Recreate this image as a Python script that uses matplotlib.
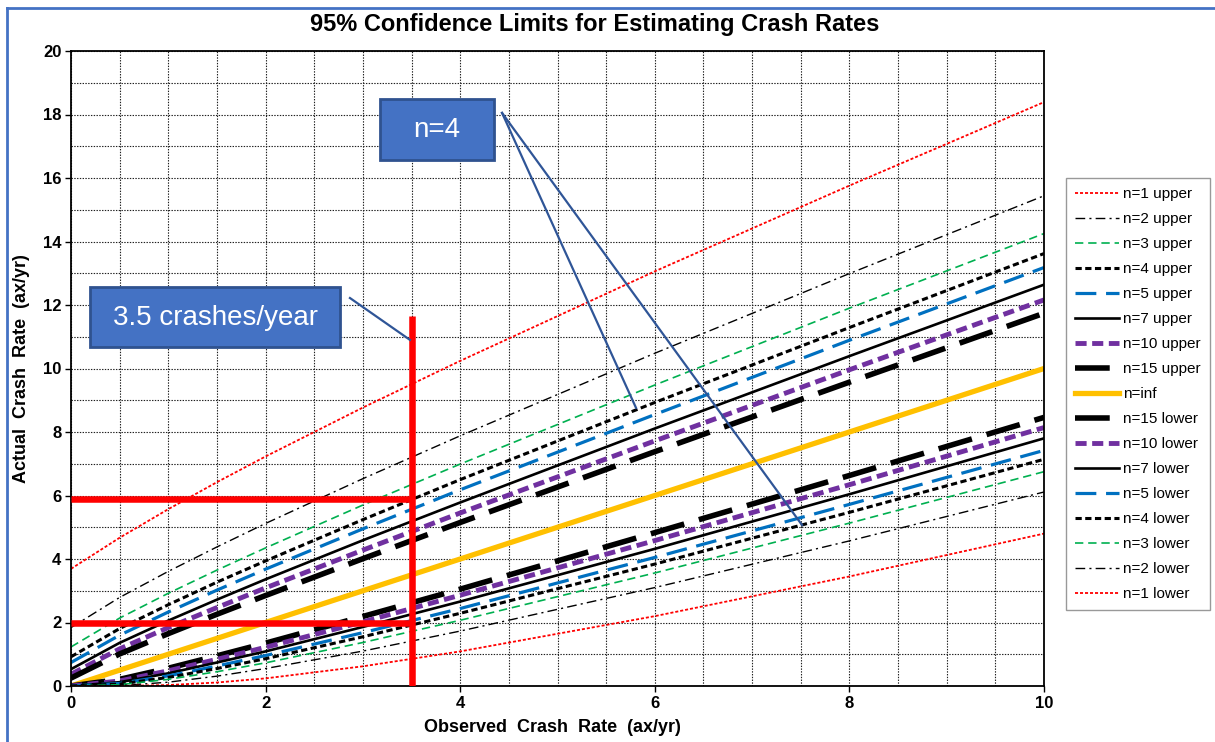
import matplotlib
matplotlib.use("Agg")
import matplotlib.pyplot as plt
from matplotlib.lines import Line2D
from matplotlib.patches import Rectangle
from matplotlib.ticker import MultipleLocator

plt.rcParams["font.family"] = ["Liberation Sans", "DejaVu Sans"]
plt.rcParams["lines.scale_dashes"] = False

# observed crash rate (ax/yr) at which the limits were read
rate = [0, 0.5, 1, 1.5, 2, 3, 4, 6, 8, 10]

# upper 95% limits, n = years of data
upper_n1 = [3.69, 4.67, 5.57, 6.42, 7.23, 8.77, 10.24, 13.06, 15.76, 18.39]
upper_n2 = [1.84, 2.79, 3.61, 4.38, 5.12, 6.53, 7.88, 10.48, 12.99, 15.44]
upper_n3 = [1.23, 2.14, 2.92, 3.65, 4.35, 5.70, 6.99, 9.48, 11.90, 14.25]
upper_n4 = [0.92, 1.81, 2.56, 3.27, 3.94, 5.24, 6.50, 8.93, 11.29, 13.62]
upper_n5 = [0.74, 1.60, 2.33, 3.02, 3.68, 4.95, 6.18, 8.55, 10.89, 13.18]
upper_n7 = [0.53, 1.36, 2.06, 2.72, 3.36, 4.59, 5.78, 8.11, 10.39, 12.64]
upper_n10 = [0.37, 1.17, 1.84, 2.47, 3.09, 4.28, 5.45, 7.72, 9.96, 12.16]
upper_n15 = [0.25, 1.01, 1.65, 2.26, 2.85, 4.01, 5.15, 7.38, 9.57, 11.74]
rate_inf = [0, 0.5, 1, 1.5, 2, 3, 4, 6, 8, 10]

# lower 95% limits
lower_n15 = [0, 0.21, 0.56, 0.95, 1.35, 2.19, 3.05, 4.83, 6.63, 8.46]
lower_n10 = [0, 0.16, 0.48, 0.84, 1.22, 2.02, 2.86, 4.58, 6.34, 8.14]
lower_n7 = [0, 0.12, 0.40, 0.74, 1.09, 1.86, 2.66, 4.32, 6.04, 7.80]
lower_n5 = [0, 0.08, 0.32, 0.63, 0.96, 1.68, 2.44, 4.05, 5.72, 7.42]
lower_n4 = [0, 0.06, 0.27, 0.55, 0.86, 1.55, 2.29, 3.84, 5.47, 7.14]
lower_n3 = [0, 0.04, 0.21, 0.45, 0.73, 1.37, 2.07, 3.56, 5.13, 6.75]
lower_n2 = [0, 0.01, 0.12, 0.31, 0.55, 1.10, 1.73, 3.10, 4.57, 6.11]
lower_n1 = [0, 0.00, 0.03, 0.11, 0.24, 0.62, 1.09, 2.20, 3.45, 4.80]

# worked example: 3.5 crashes/year over 4 years
example_rate = 3.5
example_upper = 5.9
example_lower = 2.0
example_top = 11.65

# (label, values, colour, width, linestyle)
series = [
    ("n=1 upper", upper_n1, "#FF0000", 1.3, (0, (2.2, 1.4))),
    ("n=2 upper", upper_n2, "black", 1.0, (0, (7, 3, 1.5, 3))),
    ("n=3 upper", upper_n3, "#00B050", 1.2, (0, (6, 3.5))),
    ("n=4 upper", upper_n4, "black", 2.2, (0, (4.5, 2.5))),
    ("n=5 upper", upper_n5, "#0070C0", 2.3, (0, (15, 7))),
    ("n=7 upper", upper_n7, "black", 1.9, "-"),
    ("n=10 upper", upper_n10, "#7030A0", 3.5, (0, (8, 4))),
    ("n=15 upper", upper_n15, "black", 4.0, (0, (25, 11))),
    ("n=inf", rate_inf, "#FFC000", 3.8, "-"),
    ("n=15 lower", lower_n15, "black", 4.0, (0, (25, 11))),
    ("n=10 lower", lower_n10, "#7030A0", 3.5, (0, (8, 4))),
    ("n=7 lower", lower_n7, "black", 1.9, "-"),
    ("n=5 lower", lower_n5, "#0070C0", 2.3, (0, (15, 7))),
    ("n=4 lower", lower_n4, "black", 2.2, (0, (4.5, 2.5))),
    ("n=3 lower", lower_n3, "#00B050", 1.2, (0, (6, 3.5))),
    ("n=2 lower", lower_n2, "black", 1.0, (0, (7, 3, 1.5, 3))),
    ("n=1 lower", lower_n1, "#FF0000", 1.3, (0, (2.2, 1.4))),
]

fig = plt.figure(figsize=(12.15, 7.42), dpi=100)
ax = fig.add_axes([71 / 1215, 1 - 686 / 742, (1044 - 71) / 1215, (686 - 51) / 742])

for label, values, color, lw, ls in series:
    ax.plot(rate, values, color=color, lw=lw, linestyle=ls, label=label)

ax.set_xlim(0, 10)
ax.set_ylim(0, 20)
ax.xaxis.set_major_locator(MultipleLocator(2))
ax.xaxis.set_minor_locator(MultipleLocator(0.5))
ax.yaxis.set_major_locator(MultipleLocator(2))
ax.yaxis.set_minor_locator(MultipleLocator(1))
ax.grid(which="both", color="#202020", lw=0.8, linestyle=(0, (1, 1)))
ax.set_axisbelow(True)
ax.tick_params(which="major", direction="out", length=4, width=1, labelsize=12, pad=3)
ax.tick_params(which="minor", length=0)
for lab in ax.get_xticklabels() + ax.get_yticklabels():
    lab.set_fontweight("bold")
for sp in ax.spines.values():
    sp.set_linewidth(1.3)

# red guide lines for the example
red = dict(color="#FF0000", lw=4.7, solid_capstyle="butt", zorder=5)
ax.plot([example_rate, example_rate], [0, example_top], **red)
ax.plot([0, example_rate], [example_upper, example_upper], **red)
ax.plot([0, example_rate], [example_lower, example_lower], **red)

# callouts
box = dict(facecolor="#4472C4", edgecolor="#2F528F", lw=2, zorder=6)
ax.add_patch(Rectangle((0.195, 10.68), 2.57, 1.89, **box))
ax.text(1.48, 11.6, "3.5 crashes/year", color="white", fontsize=20,
        ha="center", va="center", zorder=7)
ax.add_patch(Rectangle((3.176, 16.57), 1.171, 1.92, **box))
ax.text(3.76, 17.5, "n=4", color="white", fontsize=20,
        ha="center", va="center", zorder=7)
leader = dict(color="#2F5597", lw=1.6, zorder=6)
ax.plot([2.867, 3.484], [12.22, 10.9], **leader)
ax.plot([4.43, 5.807], [18.05, 8.76], **leader)
ax.plot([4.43, 7.513], [18.05, 5.07], **leader)

fig.text(595 / 1215, 1 - 25 / 742, "95% Confidence Limits for Estimating Crash Rates",
         fontsize=17, fontweight="bold", ha="center", va="center")
fig.text(22 / 1215, 1 - 369 / 742, "Actual  Crash  Rate  (ax/yr)", fontsize=13,
         fontweight="bold", rotation=90, ha="center", va="center")
fig.text(552 / 1215, 1 - 727 / 742, "Observed  Crash  Rate  (ax/yr)", fontsize=13,
         fontweight="bold", ha="center", va="center")

leg = ax.legend(loc="upper left", bbox_to_anchor=(1066 / 1215, 1 - 178 / 742),
                bbox_transform=fig.transFigure, fontsize=11, frameon=True,
                fancybox=False, edgecolor="#808080", borderpad=0.6,
                labelspacing=0.72, handlelength=2.9, handletextpad=0.25,
                borderaxespad=0)
leg.get_frame().set_linewidth(1.0)

# outer chart border (blue)
fig.add_artist(Line2D([7 / 1215, 1], [1 - 8 / 742, 1 - 8 / 742], color="#4472C4", lw=2))
fig.add_artist(Line2D([7 / 1215, 7 / 1215], [0, 1 - 8 / 742], color="#4472C4", lw=2))

fig.savefig("out.png", dpi=100)
